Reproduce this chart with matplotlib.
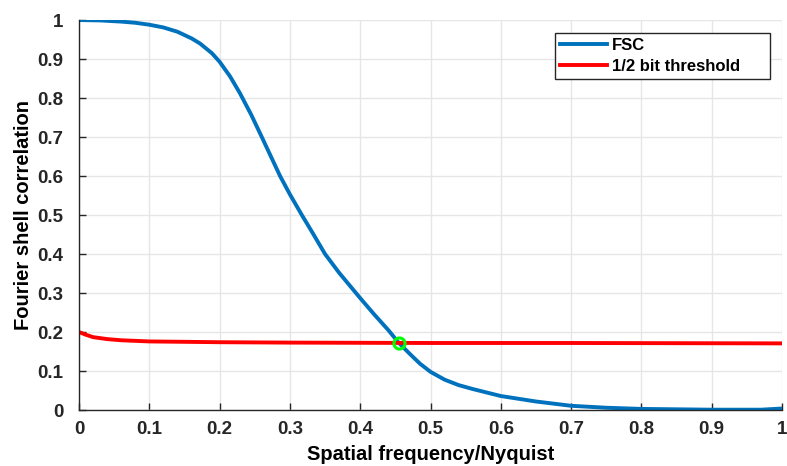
import matplotlib
matplotlib.use("Agg")
import matplotlib.pyplot as plt
from matplotlib.ticker import FuncFormatter

# FSC curve
freq = [0.0, 0.03, 0.06, 0.08, 0.1, 0.12, 0.14, 0.16, 0.172, 0.189, 0.2, 0.215,
        0.229, 0.245, 0.26, 0.273, 0.286, 0.3, 0.317, 0.333, 0.35, 0.37, 0.394,
        0.4, 0.42, 0.44, 0.455, 0.47, 0.485, 0.5, 0.52, 0.54, 0.56, 0.6, 0.65,
        0.7, 0.75, 0.8, 0.9, 0.97, 1.0]
fsc = [1.0, 0.999, 0.996, 0.993, 0.988, 0.981, 0.97, 0.953, 0.94, 0.915, 0.893, 0.855,
       0.812, 0.757, 0.70, 0.65, 0.60, 0.553, 0.50, 0.452, 0.40, 0.352, 0.30,
       0.287, 0.245, 0.205, 0.172, 0.145, 0.119, 0.098, 0.078, 0.064, 0.054, 0.036, 0.022,
       0.011, 0.006, 0.003, 0.001, 0.001, 0.004]

# 1/2 bit threshold
thr_freq = [0.0, 0.01, 0.02, 0.04, 0.06, 0.1, 0.2, 0.3, 0.5, 0.7, 1.0]
thr = [0.2, 0.193, 0.187, 0.182, 0.179, 0.176, 0.174, 0.173, 0.172, 0.172, 0.171]

cross_x = 0.455
cross_y = 0.172

plt.rcParams['font.family'] = ['Liberation Sans', 'DejaVu Sans']
plt.rcParams['font.weight'] = 'bold'

fig = plt.figure(figsize=(7.87, 4.66), dpi=100)
ax = fig.add_axes([0.1004, 0.12, 0.8933, 0.837])

ax.plot(freq, fsc, color='#0072BD', lw=2.8, label='FSC')
ax.plot(thr_freq, thr, color='#FF0000', lw=2.8, label='1/2 bit threshold')
ax.plot([cross_x], [cross_y], 'o', ms=8, mfc='none', mec='#00FF00', mew=2.2)

ax.set_xlim(0, 1)
ax.set_ylim(0, 1)
ticks = [i / 10 for i in range(11)]
ax.set_xticks(ticks)
ax.set_yticks(ticks)
fmt = FuncFormatter(lambda v, p: '%g' % v)
ax.xaxis.set_major_formatter(fmt)
ax.yaxis.set_major_formatter(fmt)
ax.tick_params(direction='in', length=5, width=1, colors='#262626', labelsize=13.5)
ax.tick_params(axis='x', pad=8)
ax.tick_params(axis='y', pad=11)
for lab in ax.get_xticklabels() + ax.get_yticklabels():
    lab.set_fontweight('bold')

ax.grid(True, color='#E6E6E6', lw=1)
ax.set_axisbelow(True)
for s in ['top', 'right']:
    ax.spines[s].set_visible(False)
for s in ['left', 'bottom']:
    ax.spines[s].set_color('#262626')
    ax.spines[s].set_linewidth(1)

ax.set_xlabel('Spatial frequency/Nyquist', fontsize=14.5, fontweight='bold', labelpad=5)
ax.set_ylabel('Fourier shell correlation', fontsize=14.5, fontweight='bold', labelpad=3)

# MATLAB style legend box, wider than its text
leg = ax.legend(loc='upper left', bbox_to_anchor=(0.677, 0.85, 0.306, 0.117),
                mode='expand', fancybox=False,
                edgecolor='#262626', framealpha=1, fontsize=12,
                handlelength=2.8, borderpad=0.3, labelspacing=0.35, handletextpad=0.3,
                borderaxespad=0)
leg.get_frame().set_linewidth(1)
for t in leg.get_texts():
    t.set_fontweight('bold')

fig.savefig('out.png', dpi=100)
